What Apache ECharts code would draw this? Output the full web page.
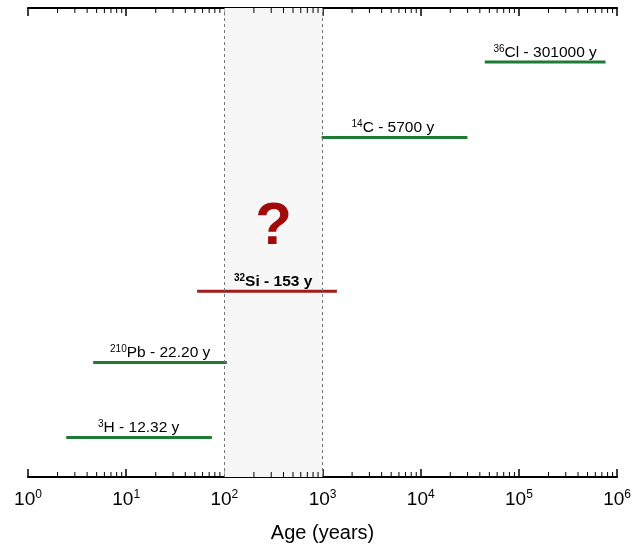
<!DOCTYPE html>
<html>
<head>
<meta charset="utf-8">
<script src="https://cdn.jsdelivr.net/npm/echarts@6/dist/echarts.min.js"></script>
<style>
  html, body { margin: 0; padding: 0; background: #fff; }
  #chart { width: 634px; height: 548px; }
</style>
</head>
<body>
<div id="chart"></div>
<script>
// isotopes, top row first
const isoMass = ['36', '14', '32', '210', '3'];
const isoName = ['Cl', 'C', 'Si', 'Pb', 'H'];
const halfLife = ['301000', '5700', '153', '22.20', '12.32'];
const rangeStart = [44900, 979, 52.8, 4.61, 2.45];
const rangeEnd = [763000, 29900, 1400, 106, 74.6];
const rowLevel = [88.5, 72.4, 39.6, 24.4, 8.4];
const labelAt = [185000, 5200, 314, 22.2, 13.4];
const lineColor = ['#1e7b36', '#1e7b36', '#a31b1b', '#1e7b36', '#1e7b36'];
const boldLabel = [false, false, true, false, false];

// gap window (years) and the question mark
const gapWindow = [100, 1000];
const qMark = [318, 53.2];

const decades = [0, 1, 2, 3, 4, 5];
const minorSteps = [2, 3, 4, 5, 6, 7, 8, 9];

var myChart = echarts.init(document.getElementById('chart'));

const font = 'Liberation Sans, Arial, sans-serif';

// minor tick values, placed through the log scale
const minorTicks = [];
decades.forEach(d => minorSteps.forEach(m => minorTicks.push([m * Math.pow(10, d)])));

const series = [];

// shaded window with dashed borders
series.push({
  type: 'line',
  data: [],
  silent: true,
  markArea: {
    silent: true,
    itemStyle: { color: '#f7f7f7' },
    data: [[{ xAxis: gapWindow[0] }, { xAxis: gapWindow[1] }]]
  },
  markLine: {
    silent: true,
    symbol: 'none',
    label: { show: false },
    lineStyle: { color: '#777', type: [3, 3], width: 1 },
    data: gapWindow.map(v => ({ xAxis: v }))
  }
});

isoName.forEach((name, i) => {
  series.push({
    type: 'line',
    data: [[rangeStart[i], rowLevel[i]], [rangeEnd[i], rowLevel[i]]],
    symbol: 'none',
    lineStyle: { color: lineColor[i], width: 3 },
    z: 3
  });
  const w = boldLabel[i] ? 'bold' : 'normal';
  series.push({
    type: 'scatter',
    data: [[labelAt[i], rowLevel[i]]],
    symbolSize: 0,
    itemStyle: { opacity: 1 },
    z: 4,
    label: {
      show: true,
      position: 'top',
      distance: 1,
      formatter: '{sup|' + isoMass[i] + '}{main|' + name + ' - ' + halfLife[i] + ' y}',
      rich: {
        sup: { fontSize: 10, fontFamily: font, fontWeight: w, color: '#000', verticalAlign: 'top', lineHeight: 17, padding: [0, 0, 6, 0] },
        main: { fontSize: 15.5, fontFamily: font, fontWeight: w, color: '#000', lineHeight: 17 }
      }
    }
  });
});

series.push({
  type: 'scatter',
  data: [qMark],
  symbolSize: 0,
  itemStyle: { opacity: 1 },
  z: 4,
  label: {
    show: true,
    position: 'inside',
    formatter: '?',
    fontSize: 60,
    fontWeight: 'bold',
    fontFamily: font,
    color: '#a00a0a'
  }
});

// minor ticks on bottom and top axes
function minorTickSeries(xIdx, atTop) {
  return {
    type: 'custom',
    xAxisIndex: xIdx,
    silent: true,
    data: minorTicks,
    renderItem: function (params, api) {
      const x = api.coord([api.value(0), 0])[0];
      const y = atTop ? params.coordSys.y : params.coordSys.y + params.coordSys.height;
      return {
        type: 'line',
        shape: { x1: x, y1: y, x2: x, y2: atTop ? y + 5 : y - 5 },
        style: { stroke: '#000', lineWidth: 1 }
      };
    }
  };
}
series.push(minorTickSeries(0, false));
series.push(minorTickSeries(1, true));

const option = {
  animation: false,
  grid: { left: 28, right: 16, top: 8, bottom: 66 },
  xAxis: [
    {
      type: 'log',
      logBase: 10,
      min: 1,
      max: 1e6,
      position: 'bottom',
      name: 'Age (years)',
      nameLocation: 'middle',
      nameGap: 46,
      nameTextStyle: { fontSize: 20, fontFamily: font, color: '#000' },
      axisLine: { lineStyle: { color: '#000', width: 2 } },
      axisTick: { inside: true, length: 8, lineStyle: { color: '#000', width: 1.5 } },
      splitLine: { show: false },
      axisLabel: {
        margin: 12,
        formatter: function (v) {
          return '{b|10}{s|' + Math.round(Math.log10(v)) + '}';
        },
        rich: {
          b: { fontSize: 19, fontFamily: font, color: '#000', lineHeight: 21 },
          s: { fontSize: 12, fontFamily: font, color: '#000', verticalAlign: 'top', lineHeight: 21, padding: [0, 0, 8, 0] }
        }
      }
    },
    {
      type: 'log',
      logBase: 10,
      min: 1,
      max: 1e6,
      position: 'top',
      axisLine: { lineStyle: { color: '#000', width: 2 } },
      axisTick: { inside: true, length: 8, lineStyle: { color: '#000', width: 1.5 } },
      splitLine: { show: false },
      axisLabel: { show: false }
    }
  ],
  yAxis: {
    type: 'value',
    min: 0,
    max: 100,
    show: false
  },
  series: series
};

option && myChart.setOption(option);
</script>
</body>
</html>
